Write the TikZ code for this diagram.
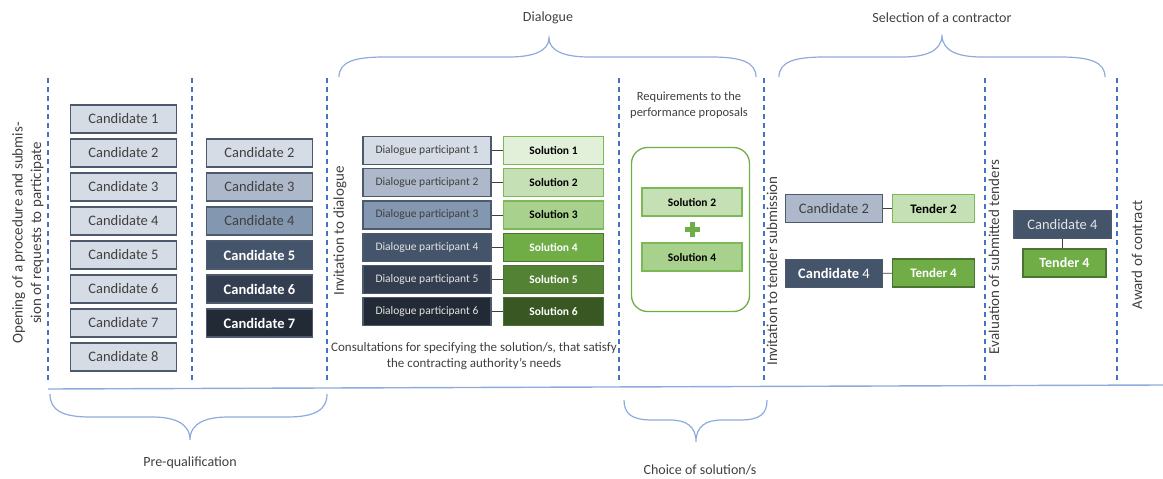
\documentclass[tikz,border=0pt]{standalone}
\usepackage{fontspec}
\setmainfont{Carlito}
\definecolor{sepc}{HTML}{4472C4}
\definecolor{brc}{HTML}{8FAADC}
\definecolor{txt}{HTML}{404040}
\definecolor{bline}{HTML}{4D5A6E}
\definecolor{ga}{HTML}{D6DCE5}
\definecolor{gb}{HTML}{ADB9CA}
\definecolor{gc}{HTML}{8497B0}
\definecolor{gd}{HTML}{44546A}
\definecolor{ge}{HTML}{333F50}
\definecolor{gf}{HTML}{222A35}
\definecolor{sa}{HTML}{E2F0D9}
\definecolor{sb}{HTML}{C5E0B4}
\definecolor{sc}{HTML}{A9D18E}
\definecolor{sd}{HTML}{70AD47}
\definecolor{se}{HTML}{548235}
\definecolor{sf}{HTML}{385723}
\definecolor{sline}{HTML}{7CB956}
\definecolor{sdark}{HTML}{4A7530}
\definecolor{ltxt}{HTML}{E4E4E4}
\begin{document}
\begin{tikzpicture}[x=1pt,y=-1pt,
  cand/.style={draw=bline, line width=1.2pt, minimum width=106pt, minimum height=28pt, inner sep=0pt, text=txt, font=\fontsize{14.5}{16}\selectfont},
  darkc/.style={text=white, font=\fontsize{14.5}{16}\selectfont\bfseries},
  dp/.style={draw=bline, line width=1.2pt, minimum width=128pt, minimum height=28pt, inner sep=0pt, text=txt, font=\fontsize{11.5}{13}\selectfont},
  dpdark/.style={text=ltxt},
  sol/.style={draw=sline, line width=1.2pt, minimum width=100pt, minimum height=28pt, inner sep=0pt, text=black, font=\fontsize{11.5}{13}\selectfont\bfseries},
  soldark/.style={draw=sdark, text=white},
  link/.style={draw=txt, line width=0.8pt},
  sepline/.style={draw=sepc, line width=1.3pt, dash pattern=on 5pt off 4pt},
  bracestyle/.style={draw=brc, line width=1.2pt},
  rot/.style={rotate=90, text=txt, font=\fontsize{15}{18.5}\selectfont, align=center},
  lbl/.style={text=txt, align=center}
]
\useasboundingbox (0,0) rectangle (1163,479);

% separators
\foreach \xx in {48,192,327,619,764,985,1117}
  \draw[sepline] (\xx,78) -- (\xx,383);
\draw[draw=brc, line width=1.4pt] (48,389) -- (1163,385);

% braces
\draw[bracestyle] (339,77) .. controls (339,62) and (354,57) .. (384,57) -- (509,57) .. controls (531,57) and (549,52) .. (549,38) .. controls (549,52) and (567,57) .. (589,57) -- (711,57) .. controls (741,57) and (756,62) .. (756,77);
\draw[bracestyle] (779,77) .. controls (779,62) and (794,57) .. (824,57) -- (902,57) .. controls (924,57) and (942,52) .. (942,35) .. controls (942,52) and (960,57) .. (982,57) -- (1060,57) .. controls (1090,57) and (1105,62) .. (1105,77);
\draw[bracestyle] (50,394) .. controls (50,410) and (62,417) .. (90,417) -- (152,417) .. controls (172,417) and (190,422) .. (190,440) .. controls (190,422) and (208,417) .. (228,417) -- (287,417) .. controls (315,417) and (327,410) .. (327,394);
\draw[bracestyle] (624,400) .. controls (624,414) and (632,420) .. (652,420) -- (670,420) .. controls (686,420) and (696,426) .. (696,442) .. controls (696,426) and (706,420) .. (722,420) -- (740,420) .. controls (760,420) and (767,414) .. (767,400);

% phase labels
\node[lbl, font=\fontsize{14}{16}\selectfont] (dlg) at (548,18) {Dialogue};
\node[lbl, font=\fontsize{14}{16}\selectfont] (sel) at (942,18) {Selection of a contractor};
\node[lbl, font=\fontsize{14}{16}\selectfont] (preq) at (190,463) {Pre-qualification};
\node[lbl, font=\fontsize{14}{16}\selectfont] (choice) at (700,470) {Choice of solution/s};

% rotated step labels
\node[rot] (open) at (28,233) {Opening of a procedure and submis-\\sion of requests to participate};
\node[rot] (invd) at (340,231) {Invitation to dialogue};
\node[rot] (invt) at (772,271) {Invitation to tender submission};
\node[rot] (eval) at (994,257) {Evaluation of submitted tenders};
\node[rot] (award) at (1137,255) {Award of contract};

% candidates column 1
\foreach \i in {1,...,8}
  \node[cand, fill=ga] (a\i) at (123.5,{119+34*(\i-1)}) {Candidate \i};

% candidates column 2
\node[cand, fill=ga] (b2) at (259.5,153) {Candidate 2};
\node[cand, fill=gb] (b3) at (259.5,187) {Candidate 3};
\node[cand, fill=gc] (b4) at (259.5,221) {Candidate 4};
\node[cand, darkc, fill=gd] (b5) at (259.5,255) {Candidate 5};
\node[cand, darkc, fill=ge] (b6) at (259.5,289) {Candidate 6};
\node[cand, darkc, fill=gf] (b7) at (259.5,323) {Candidate 7};

% dialogue participants and solutions
\node[dp, fill=ga] (d1) at (427,150.5) {Dialogue participant 1};
\node[dp, fill=gb] (d2) at (427,182.7) {Dialogue participant 2};
\node[dp, fill=gc] (d3) at (427,214.9) {Dialogue participant 3};
\node[dp, dpdark, fill=gd] (d4) at (427,247.1) {Dialogue participant 4};
\node[dp, dpdark, fill=ge] (d5) at (427,279.3) {Dialogue participant 5};
\node[dp, dpdark, fill=gf] (d6) at (427,311.5) {Dialogue participant 6};
\node[sol, fill=sa] (s1) at (553.5,150.5) {Solution 1};
\node[sol, fill=sb] (s2) at (553.5,182.7) {Solution 2};
\node[sol, fill=sc] (s3) at (553.5,214.9) {Solution 3};
\node[sol, soldark, fill=sd] (s4) at (553.5,247.1) {Solution 4};
\node[sol, soldark, fill=se] (s5) at (553.5,279.3) {Solution 5};
\node[sol, soldark, fill=sf] (s6) at (553.5,311.5) {Solution 6};
\foreach \i in {1,...,6}
  \draw[link] (d\i) -- (s\i);

\node[lbl, font=\fontsize{13}{16}\selectfont] (cons) at (474,356) {Consultations for specifying the solution/s, that satisfy\\the contracting authority's needs};

% requirements
\node[lbl, font=\fontsize{12.5}{16}\selectfont] (reqt) at (689,105) {Requirements to the\\performance proposals};
\node[draw=sd, line width=1.3pt, rounded corners=16pt, minimum width=118pt, minimum height=164pt, inner sep=0pt] (req) at (690.5,229.5) {};
\node[sol, fill=sb] (r2) at (692,202) {Solution 2};
\node[sol, fill=sc] (r4) at (692,257) {Solution 4};
\fill[sd] (689.5,222) rectangle (694.5,237);
\fill[sd] (684.5,227) rectangle (699.5,232);

% tenders
\node[cand, minimum width=97pt, fill=gb] (c2) at (834,208.7) {Candidate 2};
\node[sol, minimum width=82pt, fill=sb, font=\fontsize{13}{15}\selectfont\bfseries] (t2) at (933.5,208.7) {Tender 2};
\node[cand, minimum width=97pt, fill=gd, text=white] (c4) at (834,273.5) {{\bfseries Candidate} 4};
\node[sol, soldark, minimum width=82pt, fill=sd, font=\fontsize{13}{15}\selectfont\bfseries] (t4) at (933.5,273) {Tender 4};
\draw[link] (c2) -- (t2);
\draw[link] (c4) -- (t4);

% award
\node[cand, minimum width=97pt, fill=gd, text=ltxt] (f4) at (1062.5,224.7) {Candidate 4};
\node[sol, soldark, minimum width=83pt, fill=sd, font=\fontsize{14}{16}\selectfont\bfseries] (ft4) at (1064.5,263) {Tender 4};
\draw[link] (f4.south) -- (f4.south |- ft4.north);
\end{tikzpicture}
\end{document}
